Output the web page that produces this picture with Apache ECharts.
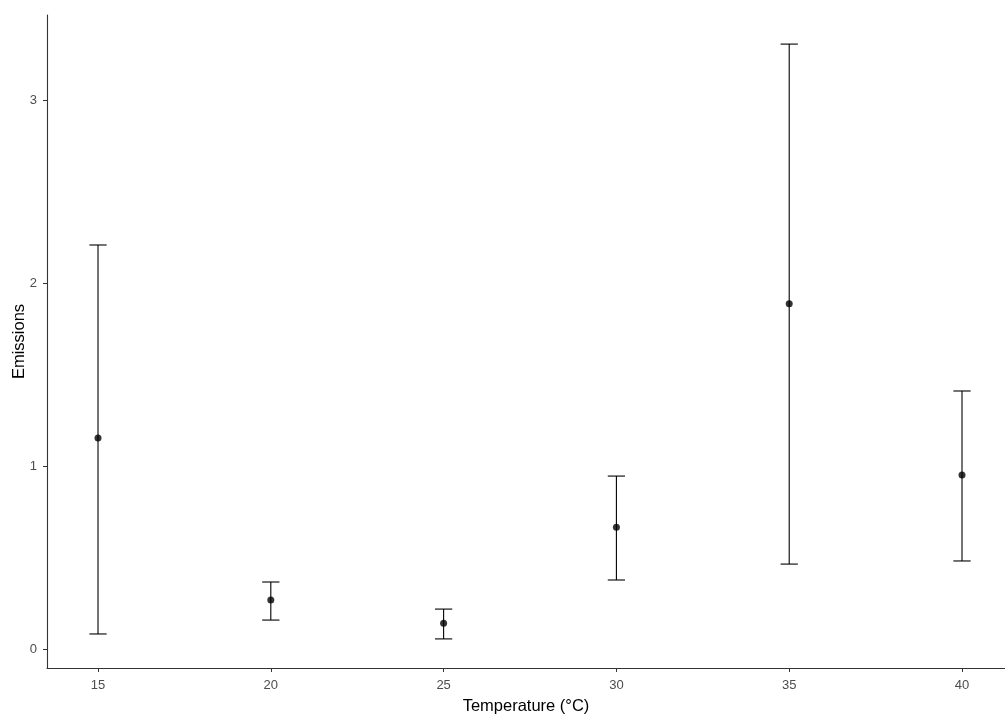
<!DOCTYPE html>
<html>
<head>
<meta charset="utf-8">
<script src="https://cdn.jsdelivr.net/npm/echarts@6/dist/echarts.min.js"></script>
<style>
html,body{margin:0;padding:0;background:#fff;}
#chart{width:1005px;height:716px;}
</style>
</head>
<body>
<div id="chart"></div>
<script>
// Data
const temperatures = [15, 20, 25, 30, 35, 40];
const meanEmissions = [1.153, 0.268, 0.141, 0.665, 1.887, 0.951];
const lowerBound = [0.082, 0.158, 0.055, 0.377, 0.464, 0.481];
const upperBound = [2.208, 0.366, 0.218, 0.945, 3.306, 1.410];
const xTickValues = [15, 20, 25, 30, 35, 40];
const yTickValues = [0, 1, 2, 3];
const capHalfWidth = 0.25;

const chart = echarts.init(document.getElementById('chart'));

const pointData = temperatures.map((t, i) => [t, meanEmissions[i]]);
const barData = temperatures.map((t, i) => [t, lowerBound[i], upperBound[i]]);

const FONT = '"Liberation Sans", Arial, sans-serif';

chart.setOption({
  animation: false,
  backgroundColor: '#ffffff',
  grid: { left: 47, right: 0, top: 15, bottom: 48, containLabel: false, outerBoundsMode: 'none' },
  xAxis: {
    type: 'value',
    min: 13.524,
    max: 41.244,
    name: 'Temperature (°C)',
    nameLocation: 'middle',
    nameGap: 29.5,
    nameMoveOverlap: false,
    nameTextStyle: { color: '#000000', fontSize: 16.5, fontFamily: FONT },
    splitLine: { show: false },
    axisLine: { show: true, onZero: false, lineStyle: { color: '#333333', width: 1.1 } },
    axisTick: { show: true, length: 4, customValues: xTickValues, lineStyle: { color: '#333333', width: 1 } },
    axisLabel: { customValues: xTickValues, color: '#4d4d4d', fontSize: 13, fontFamily: FONT, margin: 11 }
  },
  yAxis: {
    type: 'value',
    min: -0.104,
    max: 3.465,
    name: 'Emissions',
    nameLocation: 'middle',
    nameGap: 19,
    nameMoveOverlap: false,
    nameTextStyle: { color: '#000000', fontSize: 16.5, fontFamily: FONT },
    splitLine: { show: false },
    axisLine: { show: true, onZero: false, lineStyle: { color: '#333333', width: 1.1 } },
    axisTick: { show: true, length: 4, customValues: yTickValues, lineStyle: { color: '#333333', width: 1 } },
    axisLabel: { customValues: yTickValues, color: '#4d4d4d', fontSize: 13, fontFamily: FONT, margin: 10 }
  },
  series: [
    {
      type: 'custom',
      data: barData,
      encode: { x: 0, y: [1, 2] },
      renderItem: function (params, api) {
        const x = api.value(0);
        const lo = api.coord([x, api.value(1)]);
        const hi = api.coord([x, api.value(2)]);
        const left = api.coord([x - capHalfWidth, api.value(1)])[0];
        const right = api.coord([x + capHalfWidth, api.value(1)])[0];
        const style = { stroke: '#000000', lineWidth: 1.1, fill: null };
        return {
          type: 'group',
          children: [
            { type: 'line', shape: { x1: lo[0], y1: lo[1], x2: hi[0], y2: hi[1] }, style: style },
            { type: 'line', shape: { x1: left, y1: lo[1], x2: right, y2: lo[1] }, style: style },
            { type: 'line', shape: { x1: left, y1: hi[1], x2: right, y2: hi[1] }, style: style }
          ]
        };
      },
      z: 2
    },
    {
      type: 'scatter',
      data: pointData,
      symbol: 'circle',
      symbolSize: 7,
      itemStyle: { color: '#000000' },
      z: 3
    }
  ]
});
</script>
</body>
</html>
